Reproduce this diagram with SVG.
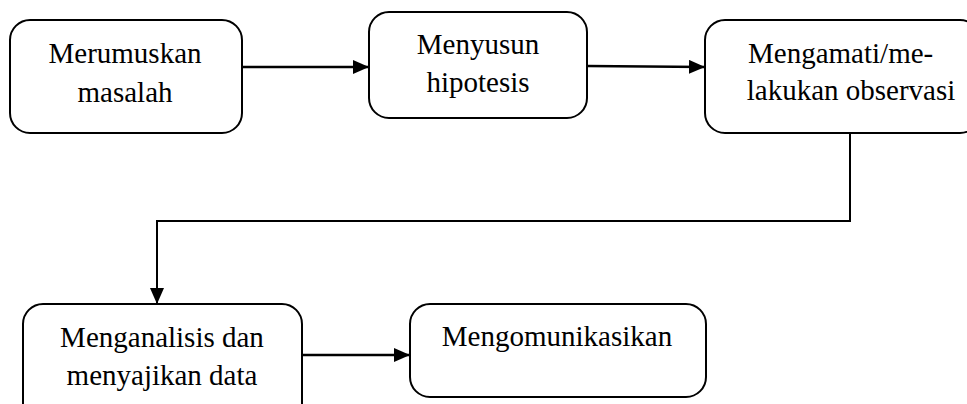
<svg xmlns="http://www.w3.org/2000/svg" width="967" height="404" viewBox="0 0 967 404">
<style>
.box{fill:#fff;stroke:#000;stroke-width:2}
.t{font-family:"Liberation Serif","Times New Roman",serif;font-size:29px;fill:#000;text-anchor:middle}
.ts{text-anchor:start}
.c{fill:none;stroke:#000;stroke-width:2.6}
.c2{fill:none;stroke:#000;stroke-width:2}
</style>
<defs>
<marker id="ahb" markerWidth="16" markerHeight="14" refX="16" refY="7" orient="auto" markerUnits="userSpaceOnUse" viewBox="0 0 16 14">
<path d="M0,0 L16,7 L0,14 Z" fill="#000"/>
</marker>
</defs>
<g id="n1"><rect class="box" x="10" y="20" width="232" height="113" rx="20"/>
<text class="t" x="125" y="63">Merumuskan</text><text class="t" x="125" y="102">masalah</text></g>
<g id="n2"><rect class="box" x="369" y="12" width="218" height="106" rx="20"/>
<text class="t" x="478" y="54">Menyusun</text><text class="t" x="478" y="92">hipotesis</text></g>
<g id="n3"><rect class="box" x="705" y="20" width="275" height="113" rx="20"/>
<text class="t ts" x="748" y="63">Mengamati/me-</text><text class="t" x="851" y="100">lakukan observasi</text></g>
<g id="n4"><rect class="box" x="23" y="304" width="279" height="120" rx="20"/>
<text class="t" x="162" y="347">Menganalisis dan</text><text class="t" x="162" y="385">menyajikan data</text></g>
<g id="n5"><rect class="box" x="410" y="304" width="296" height="93" rx="20"/>
<text class="t" x="557" y="346">Mengomunikasikan</text></g>
<g id="connectors">
<line class="c" x1="242" y1="67" x2="369" y2="67" marker-end="url(#ahb)"/>
<line class="c" x1="587" y1="66" x2="705" y2="67" marker-end="url(#ahb)"/>
<polyline class="c2" points="850,133 850,221 157,221 157,304" marker-end="url(#ahb)"/>
<line class="c" x1="302" y1="355" x2="410" y2="355" marker-end="url(#ahb)"/>
</g>
</svg>
